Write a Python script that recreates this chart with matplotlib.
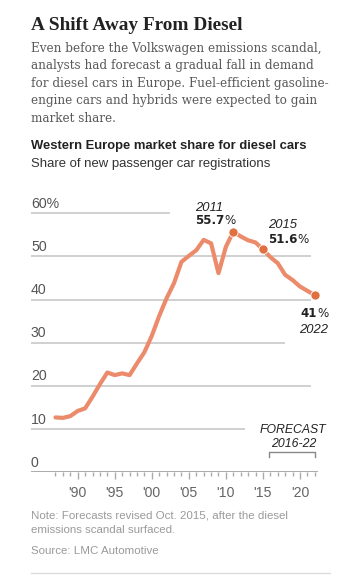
import matplotlib
matplotlib.use("Agg")
import matplotlib.pyplot as plt
from matplotlib import transforms

W, H = 350, 577
DPI = 100

years = list(range(1987, 2023))
share = [12.7, 12.6, 13.0, 14.2, 14.8, 17.5, 20.4, 23.1, 22.5, 22.9,
         22.5, 25.2, 27.8, 31.6, 36.2, 40.3, 43.8, 48.7, 50.1, 51.4,
         53.8, 53.0, 46.1, 52.2, 55.7, 54.6, 53.7, 53.2, 51.6, 49.8,
         48.4, 45.7, 44.5, 43.0, 42.0, 41.0]
highlight_years = [2011, 2015, 2022]
y_ticks = [0, 10, 20, 30, 40, 50, 60]
y_labels = ["0", "10", "20", "30", "40", "50", "60%"]
x_ticks = [1990, 1995, 2000, 2005, 2010, 2015, 2020]
x_labels = ["'90", "'95", "'00", "'05", "'10", "'15", "'20"]

title = "A Shift Away From Diesel"
body = ["Even before the Volkswagen emissions scandal,",
        "analysts had forecast a gradual fall in demand",
        "for diesel cars in Europe. Fuel-efficient gasoline-",
        "engine cars and hybrids were expected to gain",
        "market share."]
subtitle = "Western Europe market share for diesel cars"
subtitle2 = "Share of new passenger car registrations"
note = ["Note: Forecasts revised Oct. 2015, after the diesel",
        "emissions scandal surfaced."]
source = "Source: LMC Automotive"

LINE = "#ec8b6b"
DOT = "#e0703f"

fig = plt.figure(figsize=(W / DPI, H / DPI), dpi=DPI)
fig.patch.set_facecolor("white")
renderer = fig.canvas.get_renderer()


def fx(x):
    return x / W


def fy(y):
    return 1 - y / H


def fit(text, x, y, width, size=10, **kw):
    t = fig.text(fx(x), fy(y), text, fontsize=size, va="baseline", **kw)
    w = t.get_window_extent(renderer).width
    t.set_fontsize(size * width / w)
    return t


# Header text
fit(title, 31, 30, 212, family="Liberation Serif", weight="bold", color="#222222")
bt = fit(body[0], 31, 51.7, 292, family="DejaVu Serif", color="#5a5a5a")
bsize = bt.get_fontsize()
for i, line in enumerate(body[1:]):
    fig.text(fx(31), fy(51.7 + 17.5 * (i + 1)), line, fontsize=bsize,
             family="DejaVu Serif", color="#5a5a5a", va="baseline")
fit(subtitle, 31, 149, 276, family="Liberation Sans", weight="bold", color="#222222")
fit(subtitle2, 31, 166.7, 241, family="Liberation Sans", color="#333333")

nt = fit(note[0], 31, 518.3, 256, family="Liberation Sans", color="#9a9a9a")
fig.text(fx(31), fy(533.3), note[1], fontsize=nt.get_fontsize(),
         family="Liberation Sans", color="#9a9a9a", va="baseline")
fig.text(fx(31), fy(554.3), source, fontsize=nt.get_fontsize(),
         family="Liberation Sans", color="#9a9a9a", va="baseline")
fig.add_artist(plt.Line2D([fx(31), fx(330)], [fy(573.3), fy(573.3)],
                          color="#dddddd", lw=1))

# Axes geometry (pixels)
x0_px, x1_px = 31, 318
y0_px, y1_px = 472.3, 190
px_per_year = 7.41
px_per_pct = 4.32
ax = fig.add_axes([fx(x0_px), fy(y0_px), (x1_px - x0_px) / W, (y0_px - y1_px) / H])
ax.set_xlim(1990 - (77.7 - x0_px) / px_per_year, 1990 + (x1_px - 77.7) / px_per_year)
ax.set_ylim(0, (y0_px - y1_px) / px_per_pct)
ax.axis("off")


def yr(px):
    return 1990 + (px - 77.7) / px_per_year


grid_end = {60: 170, 50: 311, 40: 311, 30: 285, 20: 311, 10: 245}
for v in y_ticks[1:]:
    ax.hlines(v, ax.get_xlim()[0], yr(grid_end[v]), color="#c8c8c8", lw=1.2, zorder=1)
ax.hlines(0, ax.get_xlim()[0], ax.get_xlim()[1], color="#aaaaaa", lw=1.4, zorder=1)

lab_tr = transforms.offset_copy(
    transforms.blended_transform_factory(ax.transAxes, ax.transData),
    fig=fig, x=0, y=5.5, units="dots")
for v, lab in zip(y_ticks, y_labels):
    ax.text(0, v, lab, transform=lab_tr, family="Liberation Sans", fontsize=10.2,
            color="#555555", va="baseline", ha="left")

# year ticks
for y in years:
    major = y in x_ticks
    ax.plot([y, y], [0, -(6.5 if major else 4) / px_per_pct], color="#aaaaaa",
            lw=1, clip_on=False, solid_capstyle="butt")
tick_tr = transforms.offset_copy(ax.transData, fig=fig, x=0, y=-24.4, units="dots")
for x, lab in zip(x_ticks, x_labels):
    ax.text(x, 0, lab, transform=tick_tr, family="Liberation Sans", fontsize=10.2,
            color="#666666", ha="center", va="baseline")

# line
ax.plot(years, share, color=LINE, lw=3.0, solid_joinstyle="round",
        solid_capstyle="round", zorder=3, clip_on=False)
hx = highlight_years
hy = [share[years.index(y)] for y in hx]
ax.plot(hx, hy, "o", color=DOT, ms=6.6, mec="white", mew=0.6, zorder=4, clip_on=False)


def annot(x_px, y_px, bold, rest="", ha="left", size=8.6):
    t1 = fig.text(fx(x_px), fy(y_px), bold, fontsize=size, weight="bold",
                  family="DejaVu Sans", color="#222222", va="baseline", ha="left")
    w1 = t1.get_window_extent(renderer).width - 0.3
    t2 = fig.text(fx(x_px + w1), fy(y_px), rest, fontsize=size,
                  family="DejaVu Sans", color="#222222", va="baseline", ha="left")
    if ha == "right":
        w2 = t2.get_window_extent(renderer).width
        t1.set_x(fx(x_px - w1 - w2))
        t2.set_x(fx(x_px - w2))


fig.text(fx(195), fy(211), "2011", fontsize=9.4, style="italic", family="Liberation Sans",
         color="#222222", va="baseline")
annot(195, 224.3, "55.7", "%")
fig.text(fx(268), fy(228.3), "2015", fontsize=9.4, style="italic", family="Liberation Sans",
         color="#222222", va="baseline")
annot(268, 242.7, "51.6", "%")
annot(328.3, 317.3, "41", "%", ha="right")
fig.text(fx(328.3), fy(333.3), "2022", fontsize=9.4, style="italic", family="Liberation Sans",
         color="#222222", va="baseline", ha="right")

# forecast bracket
fig.text(fx(293.3), fy(432.7), "FORECAST", fontsize=8.8, style="italic",
         family="Liberation Sans", color="#222222", va="baseline", ha="center")
fig.text(fx(293.3), fy(447.3), "2016-22", fontsize=8.8, style="italic",
         family="Liberation Sans", color="#222222", va="baseline", ha="center")
bx0, bx1, by0, by1 = 269.3, 314.5, 452.3, 456.5
fig.add_artist(plt.Line2D([fx(bx0), fx(bx0), fx(bx1), fx(bx1)],
                          [fy(by1), fy(by0), fy(by0), fy(by1)],
                          color="#888888", lw=1))

fig.savefig("out.png", dpi=DPI, facecolor="white")
